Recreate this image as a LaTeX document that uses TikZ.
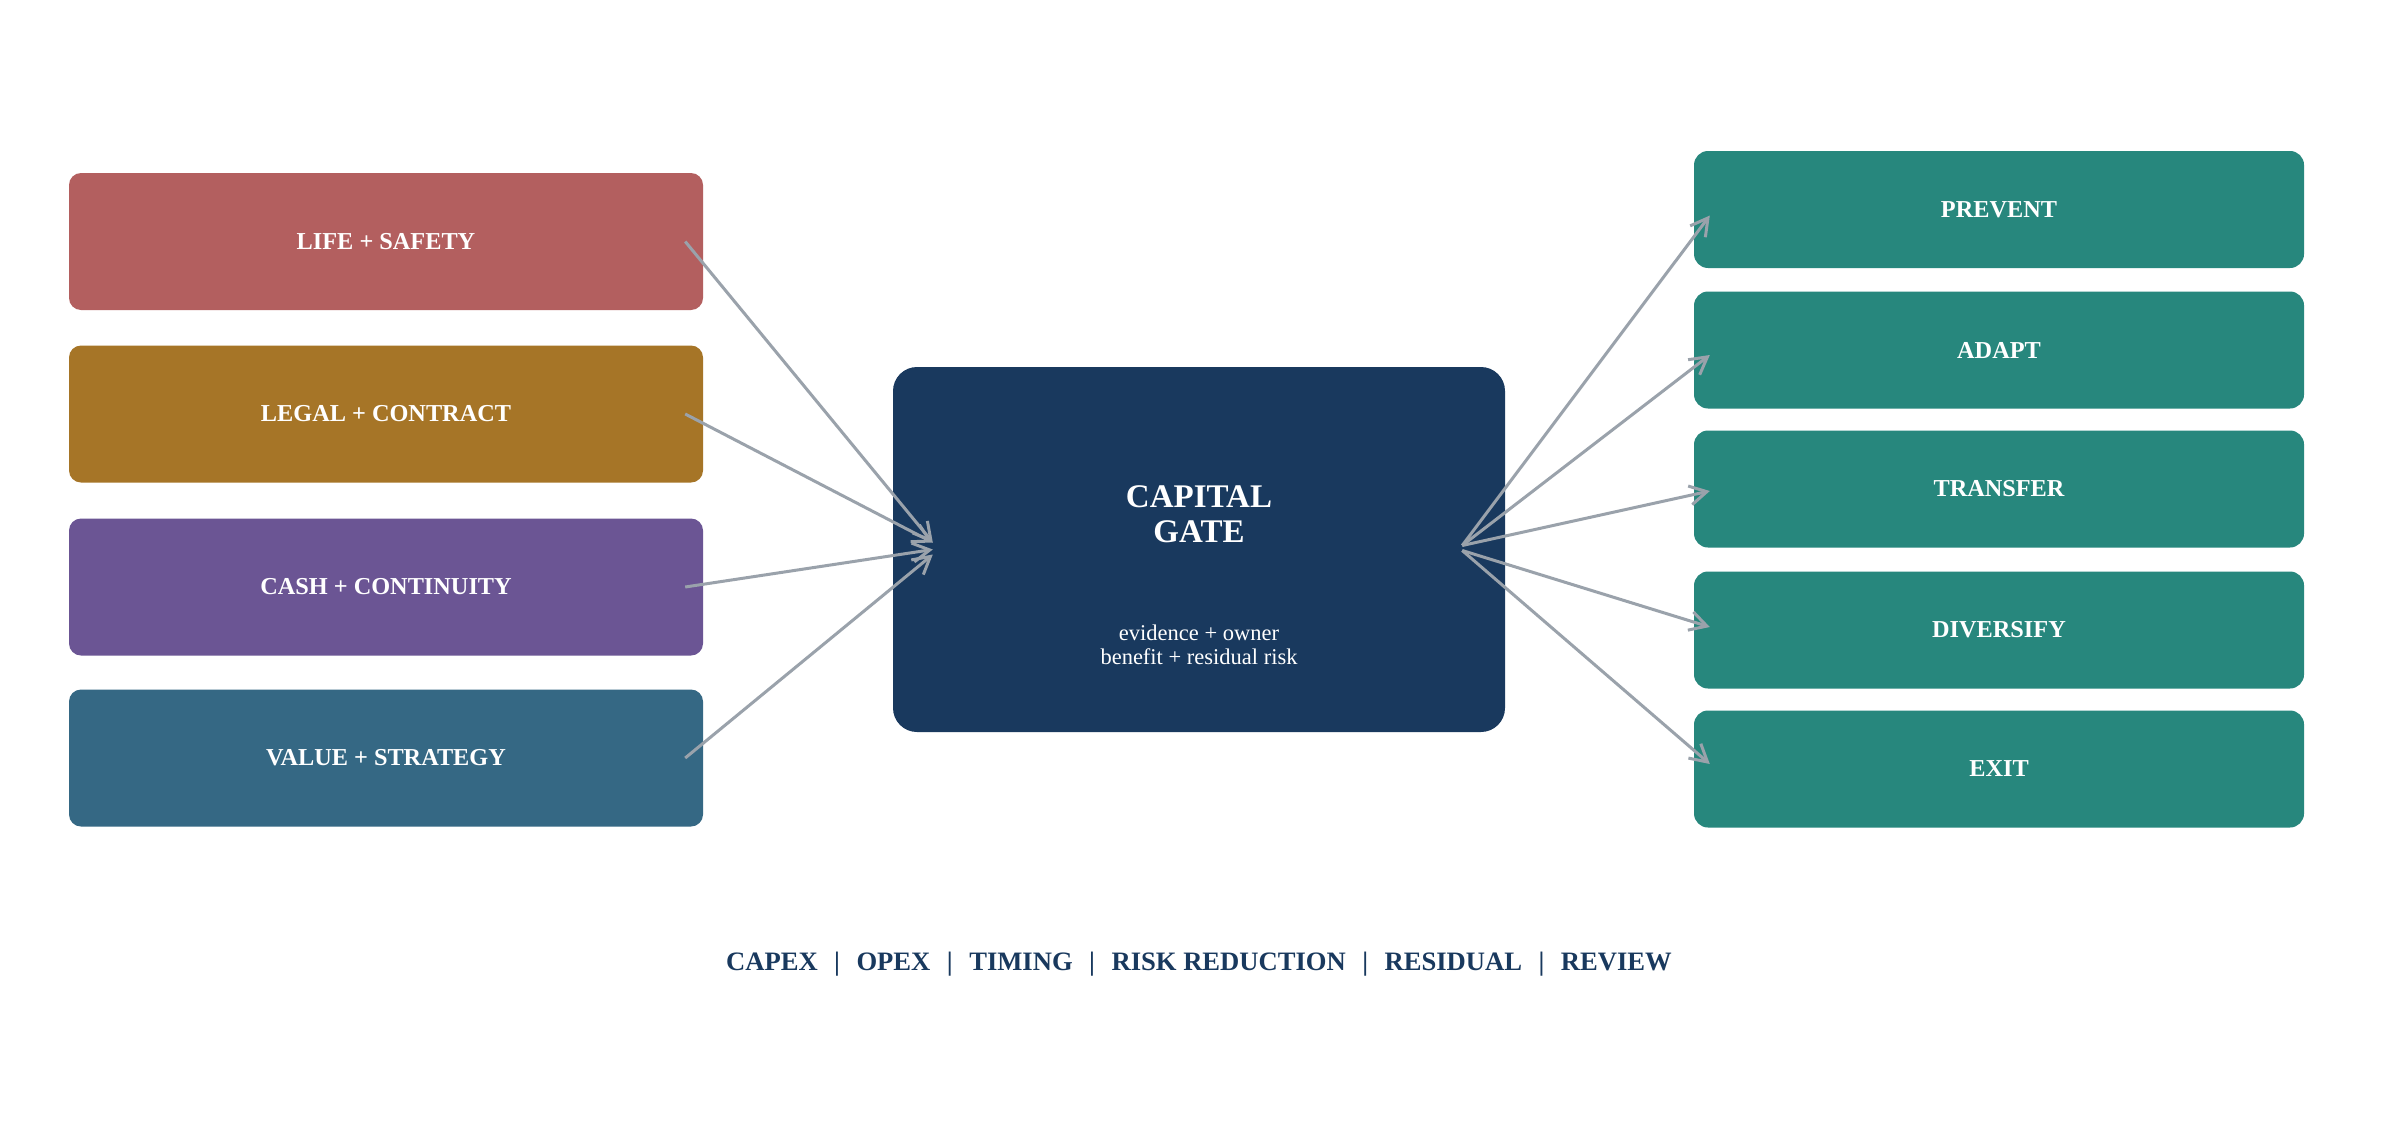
\documentclass[tikz,border=0pt]{standalone}
\usepackage{fontspec}
\setmainfont{Liberation Serif}
\usetikzlibrary{arrows.meta,calc}
\definecolor{cLife}{HTML}{B35F5F}
\definecolor{cLegal}{HTML}{A67527}
\definecolor{cCash}{HTML}{6B5594}
\definecolor{cValue}{HTML}{356884}
\definecolor{cGate}{HTML}{19395E}
\definecolor{cTeal}{HTML}{27877D}
\definecolor{cArrow}{HTML}{9AA2AB}
\begin{document}
\begin{tikzpicture}[x=1pt,y=-1pt,
  leftbox/.style={rectangle, rounded corners=12pt, minimum width=634pt, minimum height=137pt, inner sep=0pt, text=white, font=\fontsize{24.3}{28}\selectfont\bfseries},
  rightbox/.style={rectangle, rounded corners=14pt, fill=cTeal, minimum width=610pt, minimum height=117pt, inner sep=0pt, text=white, font=\fontsize{24.3}{28}\selectfont\bfseries},
  gatebox/.style={rectangle, rounded corners=24pt, fill=cGate, minimum width=612pt, minimum height=365pt, inner sep=0pt},
  flow/.style={draw=cArrow, line width=3pt, -{Straight Barb[length=17pt,width=19pt,line width=3pt]}}]
\useasboundingbox (0,0) rectangle (2397,1121);
\fill[white] (0,0) rectangle (2397,1121);
% left boxes
\node[leftbox, fill=cLife]  (l1) at (386,241.5) {LIFE + SAFETY};
\node[leftbox, fill=cLegal] (l2) at (386,414) {LEGAL + CONTRACT};
\node[leftbox, fill=cCash]  (l3) at (386,587) {CASH + CONTINUITY};
\node[leftbox, fill=cValue] (l4) at (386,758) {VALUE + STRATEGY};
% gate
\node[gatebox] (gate) at (1199,549.5) {};
\node[text=white, align=center, font=\fontsize{33}{34.5}\selectfont\bfseries] (gtitle) at (1199,514) {CAPITAL\\GATE};
\node[text=white, align=center, font=\fontsize{22.5}{24.5}\selectfont] (gsub) at (1199,645) {evidence + owner\\benefit + residual risk};
% right boxes
\node[rightbox] (r1) at (1999,209.5) {PREVENT};
\node[rightbox] (r2) at (1999,350) {ADAPT};
\node[rightbox] (r3) at (1999,489) {TRANSFER};
\node[rightbox] (r4) at (1999,630) {DIVERSIFY};
\node[rightbox] (r5) at (1999,769) {EXIT};
% hubs
\coordinate (inA) at ($(gate.west)+(40,-7)$);
\coordinate (inB) at ($(gate.west)+(40,0)$);
\coordinate (inC) at ($(gate.west)+(40,5)$);
\coordinate (outA) at ($(gate.east)+(-43,-4)$);
\coordinate (outB) at ($(gate.east)+(-43,1)$);
% arrows in
\draw[flow] ($(l1.east)+(-18,0)$) -- (inA);
\draw[flow] ($(l2.east)+(-18,0)$) -- (inA);
\draw[flow] ($(l3.east)+(-18,0)$) -- (inB);
\draw[flow] ($(l4.east)+(-18,0)$) -- (inC);
% arrows out
\draw[flow] (outA) -- ($(r1.west)+(16,6)$);
\draw[flow] (outA) -- ($(r2.west)+(16,5)$);
\draw[flow] (outA) -- ($(r3.west)+(16,2)$);
\draw[flow] (outB) -- ($(r4.west)+(16,-3)$);
\draw[flow] (outB) -- ($(r5.west)+(16,-5)$);
% footer
\node[text=cGate, font=\fontsize{26.6}{30}\selectfont\bfseries] (footer) at (1199,964) {CAPEX\hspace{0.62em}|\hspace{0.62em}OPEX\hspace{0.62em}|\hspace{0.62em}TIMING\hspace{0.62em}|\hspace{0.62em}RISK REDUCTION\hspace{0.62em}|\hspace{0.62em}RESIDUAL\hspace{0.62em}|\hspace{0.62em}REVIEW};
\end{tikzpicture}
\end{document}
